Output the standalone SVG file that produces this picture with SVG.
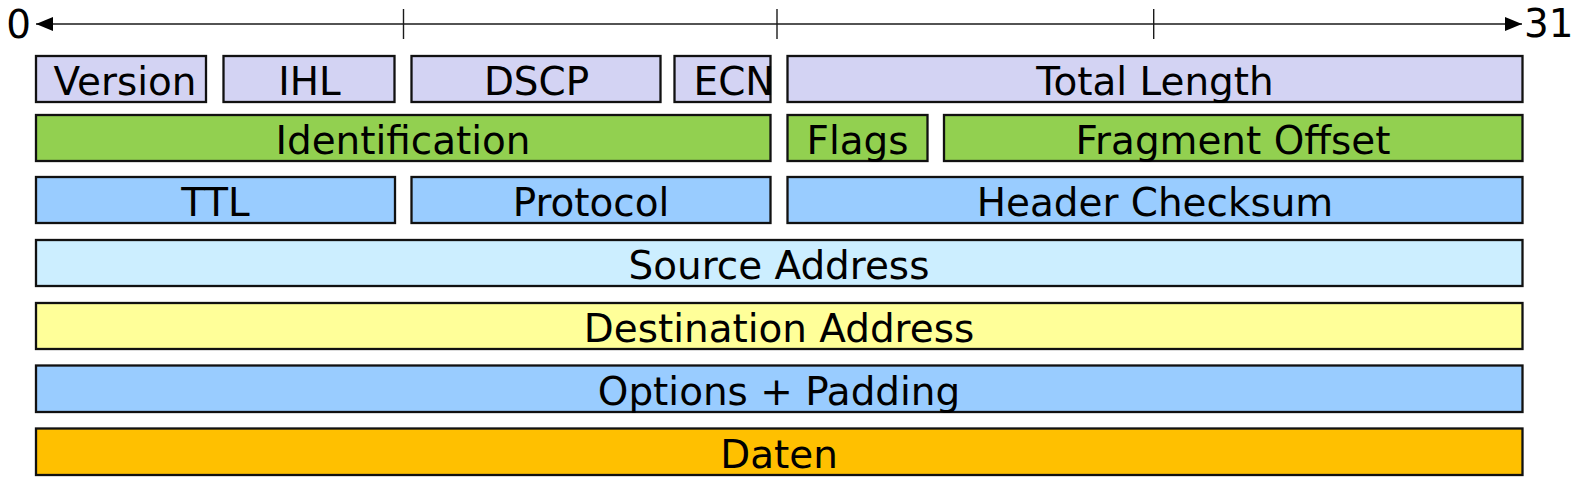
<svg xmlns="http://www.w3.org/2000/svg" width="1581" height="487" viewBox="0 0 1581 487">
<style>
.b{stroke:#111;stroke-width:2.3}
.lav{fill:#d3d3f3}
.grn{fill:#92d050}
.blu{fill:#99ccff}
.lbl{fill:#cceeff}
.yel{fill:#ffff99}
.org{fill:#ffc000}
text{font-family:"DejaVu Sans","Liberation Sans",sans-serif;font-size:38.9px;fill:#000;text-anchor:middle}
.ax{stroke:#1a1a1a;stroke-width:1.4;fill:none}
</style>
<defs>
<marker id="ah" viewBox="0 0 17 14" refX="17" refY="7" markerWidth="17" markerHeight="14" markerUnits="userSpaceOnUse" orient="auto-start-reverse">
<path d="M0,0 L17,7 L0,14 Z" fill="#000"/>
</marker>
</defs>
<g id="axis">
<line class="ax" x1="36" y1="24" x2="1522" y2="24" marker-start="url(#ah)" marker-end="url(#ah)"/>
<line class="ax" x1="403.5" y1="9" x2="403.5" y2="39"/>
<line class="ax" x1="777" y1="9" x2="777" y2="39"/>
<line class="ax" x1="1153.7" y1="9" x2="1153.7" y2="39"/>
<text x="31" y="38" style="text-anchor:end">0</text>
<text x="1524" y="37" style="text-anchor:start">31</text>
</g>
<g id="version"><rect class="b lav" x="36" y="56" width="170" height="46"/><text x="125" y="95">Version</text></g>
<g id="ihl"><rect class="b lav" x="223.5" y="56" width="171" height="46"/><text x="309.5" y="95">IHL</text></g>
<g id="dscp"><rect class="b lav" x="411.5" y="56" width="249" height="46"/><text x="536.5" y="95">DSCP</text></g>
<g id="ecn"><rect class="b lav" x="674.5" y="56" width="96" height="46"/><text x="734" y="95">ECN</text></g>
<g id="total-length"><rect class="b lav" x="787.5" y="56" width="735" height="46"/><text x="1155" y="95">Total Length</text></g>
<g id="identification"><rect class="b grn" x="36" y="115" width="734.5" height="46"/><text x="403" y="153.5">Identification</text></g>
<g id="flags"><rect class="b grn" x="787.5" y="115" width="140" height="46"/><text x="857.5" y="153.5">Flags</text></g>
<g id="fragment-offset"><rect class="b grn" x="944" y="115" width="578.5" height="46"/><text x="1233" y="153.5">Fragment Offset</text></g>
<g id="ttl"><rect class="b blu" x="36" y="177" width="359" height="46"/><text x="215.5" y="216">TTL</text></g>
<g id="protocol"><rect class="b blu" x="411.5" y="177" width="359" height="46"/><text x="591" y="216">Protocol</text></g>
<g id="header-checksum"><rect class="b blu" x="787.5" y="177" width="735" height="46"/><text x="1155" y="216">Header Checksum</text></g>
<g id="source-address"><rect class="b lbl" x="36" y="240" width="1486.5" height="46"/><text x="779" y="279">Source Address</text></g>
<g id="destination-address"><rect class="b yel" x="36" y="303" width="1486.5" height="46"/><text x="779" y="342">Destination Address</text></g>
<g id="options-padding"><rect class="b blu" x="36" y="365.5" width="1486.5" height="46.5"/><text x="779" y="405">Options + Padding</text></g>
<g id="daten"><rect class="b org" x="36" y="428.5" width="1486.5" height="46.5"/><text x="779" y="467.5">Daten</text></g>
</svg>
